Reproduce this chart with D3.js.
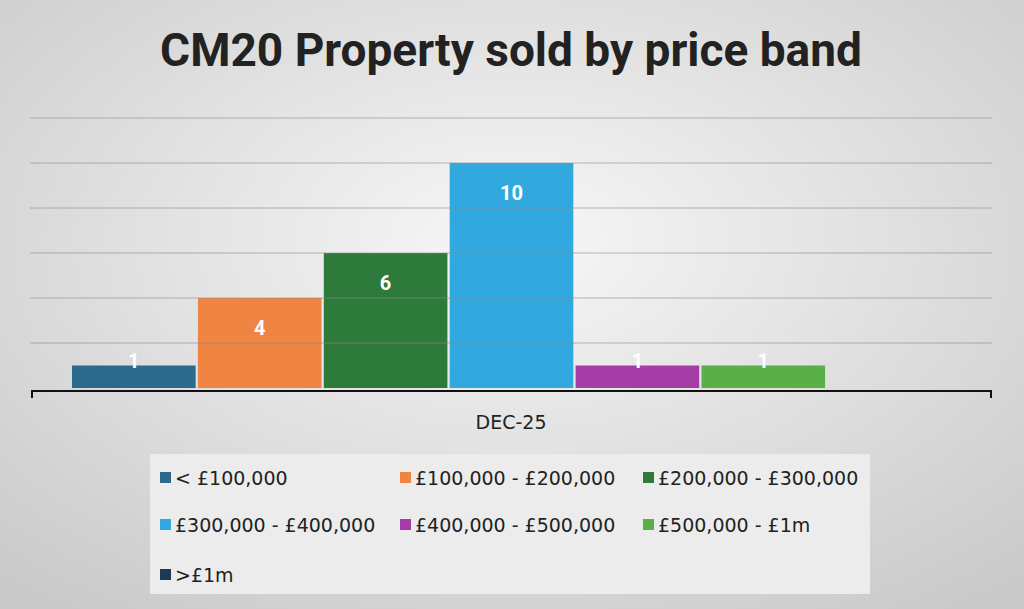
<!DOCTYPE html>
<html><head><meta charset="utf-8">
<script src="https://cdn.jsdelivr.net/npm/d3@7"></script>
<style>body{margin:0;overflow:hidden}</style>
</head><body>
<svg id="chart" width="1024" height="609"></svg>
<script>
// chart data
const bands = ['< £100,000', '£100,000 - £200,000', '£200,000 - £300,000', '£300,000 - £400,000', '£400,000 - £500,000', '£500,000 - £1m', '>£1m']
const sold = [1, 4, 6, 10, 1, 1, 0]
const colours = ['#2b6a8c', '#ef8443', '#2e7a3a', '#31a9de', '#a43ea6', '#5aaf46', '#1d3a52']
const yTicks = [0, 2, 4, 6, 8, 10, 12]
const period = 'DEC-25'

const svg = d3.select('#chart')
const defs = svg.append('defs')
const grad = defs.append('radialGradient').attr('id', 'bg').attr('cx', '50%').attr('cy', '40%').attr('r', '75%')
grad.append('stop').attr('offset', '0%').attr('stop-color', '#f7f7f7')
grad.append('stop').attr('offset', '100%').attr('stop-color', '#c9c9c9')
svg.append('rect').attr('width', 1024).attr('height', 609).attr('fill', 'url(#bg)')

svg.append('text').attr('x', 511).attr('y', 66).attr('text-anchor', 'middle')
    .attr('font-family', 'Roboto, sans-serif').attr('font-weight', 'bold').attr('font-size', 46)
    .attr('fill', '#222').text('CM20 Property sold by price band')

const y = d3.scaleLinear().domain([0, 12]).range([388, 118])
const x = d3.scaleBand().domain(bands).range([72, 951]).paddingInner(0.018)

svg.append('g').selectAll('rect').data(sold).enter().append('rect')
    .attr('x', (d, i) => x(bands[i])).attr('width', x.bandwidth())
    .attr('y', d => y(d)).attr('height', d => y(0) - y(d))
    .attr('fill', (d, i) => colours[i])

svg.append('g').selectAll('line').data(yTicks.slice(1)).enter().append('line')
    .attr('x1', 30).attr('x2', 992).attr('y1', d => y(d)).attr('y2', d => y(d))
    .attr('stroke', '#8a8a8a').attr('stroke-opacity', 0.6).attr('stroke-width', 1)

svg.append('g').selectAll('text').data(sold.map((v, i) => ({ v, i })).filter(d => d.v > 0)).enter().append('text')
    .attr('x', d => x(bands[d.i]) + x.bandwidth() / 2)
    .attr('y', d => d.v > 1 ? y(d.v) + 37 : y(d.v) + 2)
    .attr('text-anchor', 'middle').attr('font-family', 'Roboto, sans-serif').attr('font-weight', 'bold')
    .attr('font-size', 20).attr('fill', '#fff').text(d => d.v)

// axis
svg.append('path').attr('d', 'M32,398V391H991V398').attr('fill', 'none').attr('stroke', '#111').attr('stroke-width', 2)
svg.append('text').attr('x', 511).attr('y', 429).attr('text-anchor', 'middle')
    .attr('font-family', '"DejaVu Sans", sans-serif').attr('font-size', 19).attr('fill', '#222').text(period)

// legend
svg.append('rect').attr('x', 150).attr('y', 454).attr('width', 720).attr('height', 140).attr('fill', '#ececec')
const cols = [160, 400, 643]
const rows = [478, 525, 575]
const leg = svg.append('g').selectAll('g').data(bands).enter().append('g')
    .attr('transform', (d, i) => `translate(${cols[i % 3]},${rows[Math.floor(i / 3)]})`)
leg.append('rect').attr('x', 0).attr('y', -6).attr('width', 11).attr('height', 11).attr('fill', (d, i) => colours[i])
leg.append('text').attr('x', 15).attr('y', 7).attr('font-family', '"DejaVu Sans", sans-serif').attr('font-size', 19)
    .attr('fill', '#222').text(d => d)
</script>
</body></html>
